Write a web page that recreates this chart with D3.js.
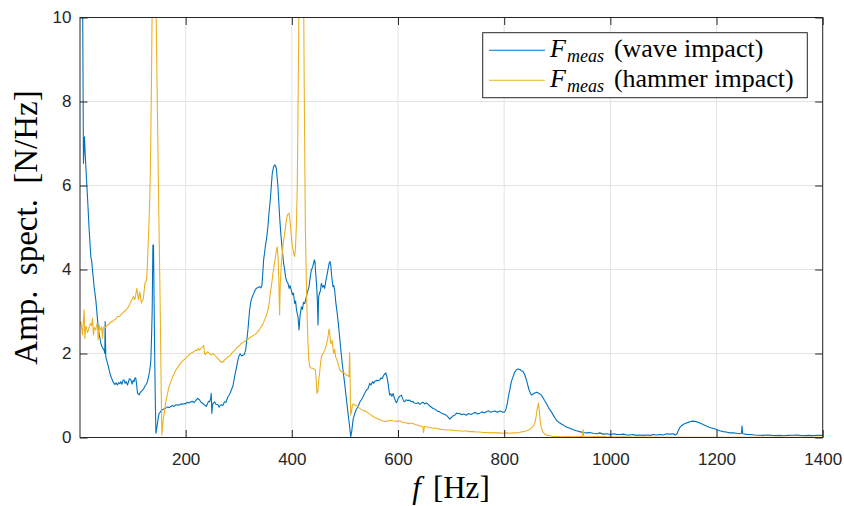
<!DOCTYPE html>
<html>
<head>
<meta charset="utf-8">
<script src="https://cdn.jsdelivr.net/npm/d3@7/dist/d3.min.js"></script>
<style>
  html, body { margin: 0; padding: 0; background: #fff; }
  svg { display: block; }
</style>
</head>
<body>
<svg id="chart" width="844" height="506"></svg>
<script>
// Amplitude spectrum of the measured force: wave impact vs. hammer impact

const xTicks = [200, 400, 600, 800, 1000, 1200, 1400];
const yTicks = [0, 2, 4, 6, 8, 10];

const seriesNames = ["wave impact", "hammer impact"];
const seriesColors = ["#0072BD", "#EDB120"];

// Wave impact: frequency [Hz] and amplitude [N/Hz]
const waveFreq = [1,4,6,7.5,9.4,10.7,13,15.1,18,21.4,23,24.5,26,27.6,29,30.8,32,34,35.5,37.1,38.5,40.2,42,44,46.5,47.7,48.4,49.6,51,52.8,55,57,59.1,61,63,65.4,67,69,71.6,74,76,77.9,80,82,84.2,86,88,90.5,92,94,96.8,99,101,103,104.5,106.2,107.5,109.4,111,112.5,114.5,116.5,118.8,121,123,125.1,127,129,131.4,133,134.5,136,137,138.3,139.5,140.4,141.4,142.7,144,145.5,147,148.5,150.2,152,154,156.5,159,162.8,166,169,172.2,175,178,181,184.8,188,191,194,197.3,200,203,206,210,213,216,219,222.5,226,229,232.5,235,238.8,241,243,245,247,248.2,249.4,251,254.5,257,260.8,263,265,267,270,273.3,276,279.6,283,286,289,292.2,295,298.5,301,303,305.5,308,310.5,313,315,317.3,320.5,323,325.5,328,330.5,333,336,339.3,341.5,343.7,345.5,346.9,348.5,350,352,355,357,359.4,361.3,363.2,365.5,367.6,369.2,370.8,372.3,373.9,375.5,377,378.5,380.3,382.5,384.5,386.5,388.5,390.5,392.8,395,396.5,399,401,403,405.4,407,409,411.6,413.6,415.5,418,420,422,424.3,426.5,428.5,430.5,432.5,434.5,436.8,439,441,442.5,443.5,445,446.5,448,449.3,450.5,452,454,455.6,458,460,461.8,463.8,466,468,470.3,472,473.4,475,477.5,479,480.6,483,485,486.9,490,493,496,499.5,503,505.8,508.5,511,513,515.3,518,521,524.8,528,531,534.2,537,540,543.5,546.8,549,552,554,556.2,559,562,565.6,568,570,572,574,577,579,581.4,583,584.5,586.5,588.5,590.8,593,595,597,599,601,603,606.4,609,611,612.7,615,618,622,625,628,631,634.6,638,641,644,647.3,650,653.5,656.7,660,663,666,670,674,678.6,682,686,691.2,694,697.5,700,703,706.9,710,713,716.3,720,724,728.9,733,737,741.5,745,750,754,758,762,766.6,770,774,779,783,787,791.7,795,798,801,803.5,806,808,810.5,813.5,816.8,820,823,826,829.4,832.5,835.6,838.5,842,845,847,849.5,851.5,854,857.7,861,864,867,870,873,876,879.6,884,889,893,898.5,904,911,917,923.6,929,936,942,948.8,955,961,967.6,975,980,986.5,993,1000,1006,1011.6,1018,1025,1030,1036.8,1043,1050,1056,1062,1068,1075,1081,1087,1094,1100,1106,1112,1118.5,1122,1125,1128,1131,1134,1137,1142,1146.7,1151,1156,1161,1165.5,1170,1174.5,1180,1187,1193,1200,1206,1212.6,1218,1225,1231,1238,1244,1247,1248,1249.5,1257,1265,1272,1280,1288,1296,1304,1312,1319,1327,1335,1343,1351,1358,1366,1374,1382,1390,1400];
const waveAmp = [14,12,10.3,6.53,7.16,6.77,6.2,5.73,5.0,4.30,4.2,3.99,3.8,3.59,3.45,3.27,3.1,2.80,2.62,2.44,2.38,2.24,2.18,2.12,2.08,2.00,2.76,1.92,1.85,1.77,1.66,1.55,1.45,1.40,1.33,1.29,1.26,1.30,1.25,1.31,1.28,1.33,1.27,1.36,1.37,1.29,1.33,1.25,1.31,1.40,1.37,1.27,1.36,1.33,1.42,1.41,1.28,1.05,1.04,1.01,1.07,1.10,1.13,1.16,1.22,1.25,1.30,1.38,1.53,1.65,1.85,2.5,3.04,4.58,4.58,3.4,2.24,1.0,0.10,0.22,0.34,0.48,0.58,0.60,0.64,0.66,0.68,0.70,0.73,0.71,0.74,0.76,0.74,0.77,0.78,0.77,0.80,0.79,0.81,0.80,0.84,0.82,0.85,0.86,0.83,0.88,0.93,0.90,0.84,0.81,0.78,0.74,0.80,0.86,0.85,0.92,1.05,0.57,0.80,0.85,0.79,0.78,0.72,0.76,0.78,0.76,0.85,0.84,0.97,1.03,1.13,1.22,1.45,1.62,1.85,1.96,1.99,1.94,1.96,1.98,2.08,2.3,2.56,3.04,3.25,3.35,3.42,3.50,3.55,3.57,3.59,3.56,3.62,3.95,4.23,4.38,4.54,4.70,5.02,5.35,5.65,5.98,6.29,6.44,6.49,6.47,6.41,6.2,5.97,5.6,5.26,4.98,4.70,4.40,4.15,3.99,3.80,3.72,3.67,3.55,3.62,3.51,3.40,3.44,3.19,3.25,3.02,2.88,2.56,2.90,3.11,3.05,3.22,3.19,3.30,3.42,3.51,3.60,3.80,3.99,4.05,4.15,4.23,4.20,3.90,3.67,3.3,2.68,3.35,3.43,3.50,3.67,3.58,3.62,3.55,3.71,3.85,3.99,4.15,4.19,4.10,3.85,3.59,3.62,3.51,3.20,3.00,2.80,2.40,2.0,1.65,1.29,0.90,0.58,0.30,0.02,0.16,0.42,0.55,0.66,0.74,0.84,0.90,0.97,1.05,1.12,1.16,1.29,1.25,1.33,1.29,1.33,1.36,1.35,1.37,1.42,1.40,1.45,1.50,1.54,1.45,1.29,1.12,1.01,1.04,0.98,1.05,0.95,0.88,0.83,0.88,0.95,0.98,1.01,0.92,0.86,0.85,0.90,0.88,0.89,0.85,0.86,0.82,0.81,0.83,0.79,0.82,0.84,0.80,0.82,0.79,0.75,0.72,0.69,0.67,0.63,0.61,0.58,0.56,0.53,0.49,0.44,0.47,0.51,0.53,0.58,0.57,0.57,0.54,0.56,0.53,0.57,0.55,0.57,0.60,0.56,0.58,0.61,0.59,0.61,0.64,0.60,0.62,0.63,0.60,0.63,0.62,0.60,0.61,0.68,0.81,0.98,1.13,1.33,1.45,1.56,1.61,1.63,1.62,1.59,1.57,1.50,1.37,1.22,1.13,1.05,1.01,1.03,1.06,1.08,1.06,1.04,1.01,0.95,0.88,0.81,0.70,0.61,0.52,0.41,0.35,0.30,0.25,0.22,0.19,0.16,0.14,0.12,0.11,0.12,0.10,0.09,0.11,0.08,0.09,0.07,0.09,0.075,0.07,0.08,0.06,0.06,0.07,0.05,0.06,0.05,0.06,0.05,0.07,0.06,0.07,0.06,0.09,0.08,0.09,0.06,0.08,0.16,0.24,0.28,0.31,0.34,0.36,0.38,0.39,0.38,0.36,0.34,0.31,0.28,0.24,0.22,0.19,0.16,0.14,0.13,0.11,0.11,0.10,0.09,0.10,0.27,0.09,0.075,0.07,0.06,0.055,0.05,0.06,0.05,0.045,0.05,0.04,0.05,0.055,0.06,0.05,0.045,0.05,0.045,0.05,0.05];

// Hammer impact: frequency [Hz] and amplitude [N/Hz]
const hammerFreq = [1,2.5,4,5.65,7,8.8,10.1,11.5,13,15,17,19,21.4,23,24.5,26.4,28,29,30.8,32.5,34,35.2,37.1,38.5,40.2,41.8,43.4,45,46.5,49,52.8,56,59.1,62,65.4,68.5,71.6,75,77.9,81,84.2,87.5,90.5,93.5,96.8,99.5,101.8,103,104.3,106,108.1,109.5,111.2,112.5,113.7,115.5,116.9,118.5,120,121.5,123.2,124.8,126.3,128,129.4,131.5,133.3,134.5,135.7,137,138.5,140,141.5,143,144.6,147,149.5,152,154,155.2,156.5,158,159.6,161.5,163.5,165.9,168,170,172.2,175,178,181.6,185,188,191,194,197,200,203.6,207,210,213,216.2,219,222,224,226.2,229,230.5,232.5,234,235.6,237,239,242,245,248.2,251,254.5,257,260.8,263,265,267,269,271,273.3,276,279.6,283,286,289,292,295,298.5,302,304.8,308,311,314.2,317,320,323.6,327,330,333,336,339,342.4,345.5,348.7,352,355,357.5,359.4,362,364.4,367,369.4,371,372.6,374.4,375.8,377,378.3,380,382,384,386.5,389,390.9,392.8,394.6,396,397.1,399,400.5,402.2,404,405.4,407,408.5,410,411,412.5,413.5,416,418,420,422,423.3,424.3,425.5,427.4,429,430.5,432,433.7,435.5,437,440,442,444.4,446,447.5,449,450.7,452,454,455.7,458.7,462,465,467,468.2,470,471.3,473,474.3,476,477.5,479,480.6,482.5,485,487,490,493,496.4,499.5,502.7,505.8,507.7,509,510,510.9,512.5,514,516,518,521,524,527,531,535,540,544,548,553,557,561,566,570,574,578,582,586,590,595,600,603,607,611,615,620,624,628,632,636,640,644,647,648,650,655,660,666,672,678,685,691,698,704,710,716,722,728,735,741,748,754,760,766.6,773,780,786,791.7,798,804,810,816.8,822,828,832,835.6,840,844,848,852,855,857.7,860,862,864.6,866,867,868.5,870,873,877,882,887,892.6,900,910,920,930,940,947,948.5,950,960,975,990,1005,1020,1040,1060,1100,1150,1200,1250,1300,1350,1400];
const hammerAmp = [2.68,2.76,2.62,2.44,2.70,3.04,2.36,2.62,2.64,2.50,2.56,2.66,2.72,2.66,2.84,2.44,2.62,2.60,2.56,2.70,2.68,2.32,2.68,2.58,2.56,2.64,2.36,2.60,2.64,2.62,2.68,2.70,2.76,2.76,2.80,2.82,2.88,2.88,2.92,2.96,3.00,3.03,3.08,3.14,3.24,3.30,3.36,3.30,3.28,3.40,3.55,3.42,3.28,3.38,3.47,3.30,3.20,3.26,3.28,3.45,3.67,3.70,3.75,4.1,4.62,5.3,6.21,7.3,8.59,10.4,14,20,14,11.5,9.9,7.6,5.3,3.2,1.1,0.06,0.25,0.45,0.57,0.76,0.90,1.05,1.17,1.26,1.33,1.42,1.51,1.61,1.67,1.73,1.77,1.82,1.85,1.89,1.93,1.98,2.00,2.03,2.05,2.08,2.07,2.12,2.08,2.12,2.15,2.16,2.19,2.00,1.97,2.02,2.04,1.99,1.96,2.00,1.96,1.93,1.88,1.85,1.82,1.79,1.81,1.80,1.85,1.87,1.92,1.94,1.99,2.04,2.07,2.12,2.16,2.20,2.24,2.26,2.28,2.32,2.34,2.37,2.40,2.42,2.45,2.48,2.52,2.57,2.64,2.70,2.80,2.90,3.04,3.20,3.43,3.65,3.91,4.12,4.31,4.45,4.54,4.23,3.6,2.92,3.67,4.10,4.39,4.65,4.86,5.10,5.26,5.32,5.34,5.25,5.10,4.80,4.60,4.47,4.35,4.31,4.55,5.02,5.8,6.85,9.0,10.5,16,20,16,11,8.5,6.85,5.0,3.67,2.8,2.24,1.85,1.69,1.66,1.65,1.65,1.63,1.61,1.35,1.05,1.10,1.37,1.50,1.75,1.92,2.0,2.08,2.20,2.32,2.40,2.58,2.50,2.26,2.24,2.32,2.12,2.00,2.10,1.92,1.85,1.77,1.62,1.57,1.55,1.53,1.49,1.47,1.45,2.02,1.20,0.53,0.62,0.76,0.80,0.78,0.76,0.74,0.70,0.67,0.64,0.62,0.58,0.55,0.50,0.47,0.45,0.42,0.40,0.39,0.38,0.40,0.41,0.40,0.39,0.38,0.40,0.37,0.35,0.35,0.33,0.34,0.34,0.31,0.30,0.28,0.27,0.26,0.12,0.26,0.25,0.24,0.22,0.22,0.20,0.19,0.18,0.18,0.17,0.16,0.16,0.15,0.16,0.14,0.14,0.13,0.13,0.12,0.12,0.11,0.12,0.11,0.11,0.10,0.11,0.10,0.11,0.11,0.12,0.13,0.14,0.15,0.17,0.19,0.23,0.28,0.34,0.48,0.66,0.82,0.65,0.50,0.33,0.22,0.13,0.08,0.05,0.04,0.02,0.02,0.015,0.02,0.015,0.02,0.02,0.19,0.02,0.015,0.02,0.015,0.01,0.015,0.01,0.008,0.006,0.005,0.005,0.005,0.005,0.005,0.005];

const svg = d3.select("#chart");
const W = 844, H = 506;
const m = { left: 80, right: 844 - 822.7, top: 17.5, bottom: 506 - 437.5 };

const x = d3.scaleLinear().domain([1, 1400]).range([m.left, W - m.right]);
const y = d3.scaleLinear().domain([0, 10]).range([H - m.bottom, m.top]);

const axisColor = "#262626";
const gridColor = "#e3e3e3";
const tickLen = 7.5;

// grid
const grid = svg.append("g");
grid.selectAll(".gx").data(xTicks).join("line")
  .attr("x1", d => x(d)).attr("x2", d => x(d))
  .attr("y1", y(0)).attr("y2", y(10))
  .attr("stroke", gridColor).attr("stroke-width", 1);
grid.selectAll(".gy").data(yTicks).join("line")
  .attr("x1", x.range()[0]).attr("x2", x.range()[1])
  .attr("y1", d => y(d)).attr("y2", d => y(d))
  .attr("stroke", gridColor).attr("stroke-width", 1);

// clip for the data lines
svg.append("defs").append("clipPath").attr("id", "plotClip")
  .append("rect")
  .attr("x", x.range()[0]).attr("y", y(10))
  .attr("width", x.range()[1] - x.range()[0])
  .attr("height", y(0) - y(10));

const line = d3.line().x(d => x(d[0])).y(d => y(d[1]));
const waveData = waveFreq.map((f, i) => [f, waveAmp[i]]);
const hammerData = hammerFreq.map((f, i) => [f, hammerAmp[i]]);

const plot = svg.append("g").attr("clip-path", "url(#plotClip)");
plot.append("path").datum(waveData)
  .attr("d", line).attr("fill", "none")
  .attr("stroke", seriesColors[0]).attr("stroke-width", 1.1)
  .attr("stroke-linejoin", "round");
plot.append("path").datum(hammerData)
  .attr("d", line).attr("fill", "none")
  .attr("stroke", seriesColors[1]).attr("stroke-width", 1.1)
  .attr("stroke-linejoin", "round");

// axes (box with inward ticks on all sides)
const fmt = d3.format("d");
const xAxis = d3.axisBottom(x).tickValues(xTicks).tickFormat(fmt).tickSizeInner(-tickLen).tickSizeOuter(0).tickPadding(15.5);
const yAxis = d3.axisLeft(y).tickValues(yTicks).tickFormat(fmt).tickSizeInner(-tickLen).tickSizeOuter(0).tickPadding(8.5);
const xTop = d3.axisTop(x).tickValues(xTicks).tickSizeInner(-tickLen).tickSizeOuter(0).tickFormat("");
const yRight = d3.axisRight(y).tickValues(yTicks).tickSizeInner(-tickLen).tickSizeOuter(0).tickFormat("");

function styleAxis(g) {
  g.select(".domain").remove();
  g.selectAll(".tick line").attr("stroke", axisColor).attr("stroke-width", 1);
  g.selectAll(".tick text")
    .attr("fill", axisColor)
    .style("font-family", "'Liberation Sans', Arial, Helvetica, sans-serif")
    .style("font-size", "17px");
}

svg.append("g").attr("transform", `translate(0,${y(0)})`).call(xAxis).call(styleAxis);
svg.append("g").attr("transform", `translate(${x.range()[0]},0)`).call(yAxis).call(styleAxis);
svg.append("g").attr("transform", `translate(0,${y(10)})`).call(xTop).call(styleAxis);
svg.append("g").attr("transform", `translate(${x.range()[1]},0)`).call(yRight).call(styleAxis);

svg.append("rect")
  .attr("x", x.range()[0]).attr("y", y(10))
  .attr("width", x.range()[1] - x.range()[0])
  .attr("height", y(0) - y(10))
  .attr("fill", "none").attr("stroke", axisColor).attr("stroke-width", 1);

// axis titles
const serif = "'Liberation Serif', 'Times New Roman', serif";
const xt = svg.append("text")
  .attr("x", 451).attr("y", 498)
  .attr("text-anchor", "middle")
  .style("font-family", serif).style("font-size", "31px").attr("fill", "#000");
xt.append("tspan").style("font-style", "italic").text("f");
xt.append("tspan").attr("dx", 12).text("[Hz]");

svg.append("text")
  .attr("transform", `translate(37,${(y(0) + y(10)) / 2}) rotate(-90)`)
  .attr("text-anchor", "middle")
  .style("font-family", serif).style("font-size", "33px")
  .style("word-spacing", "7px")
  .attr("fill", "#000")
  .text("Amp. spect.  [N/Hz]");

// legend
const lg = svg.append("g");
lg.append("rect")
  .attr("x", 482.7).attr("y", 32.7).attr("width", 324.6).attr("height", 65)
  .attr("fill", "#fff").attr("stroke", axisColor).attr("stroke-width", 1);

seriesNames.forEach((name, i) => {
  const cy = 50.3 + i * 30;
  lg.append("line")
    .attr("x1", 489).attr("x2", 545).attr("y1", cy).attr("y2", cy)
    .attr("stroke", seriesColors[i]).attr("stroke-width", 1.1);
  const t = lg.append("text")
    .attr("x", 550).attr("y", cy + 7)
    .style("font-family", serif).style("font-size", "26px").attr("fill", "#000");
  t.append("tspan").style("font-style", "italic").text("F");
  t.append("tspan").style("font-style", "italic").style("font-size", "18px")
    .attr("dy", 5).attr("dx", 1).text("meas");
  t.append("tspan").attr("dy", -5).attr("dx", 10).text(`(${name})`);
});
</script>
</body>
</html>
